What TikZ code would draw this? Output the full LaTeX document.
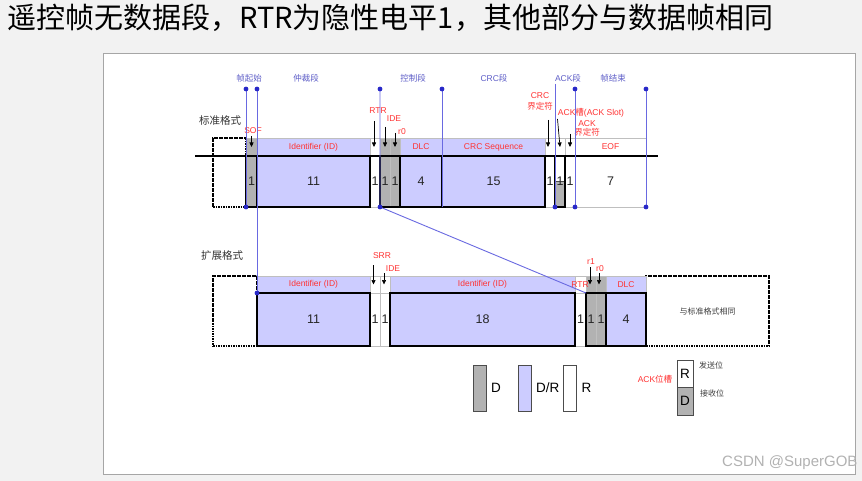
\documentclass[tikz,border=0pt]{standalone}
\usepackage{fontspec}
\setmainfont{Liberation Sans}
\newfontfamily\cjk{Noto Sans CJK SC}
\usepackage{tikz}
\usetikzlibrary{arrows.meta,positioning}
\definecolor{idlilac}{RGB}{204,204,255}
\definecolor{bitgray}{RGB}{178,178,178}
\definecolor{tagred}{RGB}{255,51,51}
\definecolor{markblue}{RGB}{105,105,225}
\definecolor{dotblue}{RGB}{40,40,200}
\definecolor{segblue}{RGB}{95,95,200}
\definecolor{pagegray}{RGB}{242,242,242}

\begin{document}
\begin{tikzpicture}[
  x=1pt, y=-1pt,
  font=\fontsize{8.5}{10}\selectfont,
  lab/.style={draw=gray!50, line width=0.6pt, fill=white, inner sep=0pt, outer sep=0pt, minimum height=18pt, text=tagred},
  val/.style={draw=gray!50, line width=0.6pt, fill=white, inner sep=0pt, outer sep=0pt, minimum height=51pt, font=\fontsize{12.5}{12.5}\selectfont, text=black!85},
  edge/.style={draw=black, line width=1.8pt},
  frame/.style={draw=black, line width=1.6pt, dash pattern=on 1.6pt off 0.9pt, inner sep=0pt, outer sep=0pt},
  seg/.style={draw=markblue, line width=0.9pt},
  pin/.style={-{Triangle[length=4.5pt,width=4pt]}, line width=0.7pt},
  tag/.style={text=tagred, inner sep=0.5pt, align=center, font=\fontsize{8.5}{10}\selectfont},
  part/.style={text=segblue, inner sep=0pt, font=\cjk\fontsize{8.5}{9}\selectfont},
  row/.style={text=black!80, inner sep=0pt, font=\cjk\fontsize{10.5}{11}\selectfont},
  key/.style={draw=black!70, line width=0.8pt, inner sep=0pt, outer sep=0pt, minimum width=13pt, minimum height=46pt, font=\fontsize{13.5}{14}\selectfont},
  keytext/.style={inner sep=0pt, font=\fontsize{13.5}{14}\selectfont},
  note/.style={inner sep=0pt, text=black!75, font=\cjk\fontsize{8}{9}\selectfont}
]
\fill[pagegray] (0,0) rectangle (862,481);
\useasboundingbox (0,0) rectangle (862,481);
\node[draw=gray!70, fill=white, line width=0.8pt, inner sep=0pt, minimum width=752pt, minimum height=421pt] (panel) at (479,263.5) {};
\node[anchor=west, inner sep=0pt, font=\cjk\fontsize{29}{30}\selectfont] (title) at (7,18) {遥控帧无数据段，RTR为隐性电平1，其他部分与数据帧相同};
\node[anchor=west, inner sep=0pt, text=black!30, font=\fontsize{15}{15}\selectfont] (mark) at (722,463) {CSDN @SuperGOB};

\node[row] (std) at (220,121) {标准格式};
\node[row] (ext) at (222,256) {扩展格式};

\node[part] (p-sof) at (249,78) {帧起始};
\node[part] (p-arb) at (306,78) {仲裁段};
\node[part] (p-ctl) at (413,78) {控制段};
\node[part] (p-crc) at (494,78) {{\normalfont CRC}段};
\node[part] (p-ack) at (568,78) {{\normalfont ACK}段};
\node[part] (p-eof) at (613,78) {帧结束};

\node[frame, minimum width=33pt, minimum height=69pt] (s-pre) at (229.5,172.5) {};
\node[val, fill=bitgray, minimum width=11pt] (s-sof) at (251.5,181.5) {1};
\node[val, fill=idlilac, minimum width=113pt, right=0pt of s-sof] (s-id) {11};
\node[val, minimum width=10pt, right=0pt of s-id] (s-rtr) {1};
\node[val, fill=bitgray, minimum width=10pt, right=0pt of s-rtr] (s-ide) {1};
\node[val, fill=bitgray, minimum width=10pt, right=0pt of s-ide] (s-r0) {1};
\node[val, fill=idlilac, minimum width=42pt, right=0pt of s-r0] (s-dlc) {4};
\node[val, fill=idlilac, minimum width=103pt, right=0pt of s-dlc] (s-crc) {15};
\node[val, minimum width=10pt, right=0pt of s-crc] (s-crcd) {1};
\node[val, minimum width=10pt, right=0pt of s-crcd, path picture={
  \fill[bitgray] (path picture bounding box.west) rectangle (path picture bounding box.south east);
  \draw[black!70, line width=0.6pt] (path picture bounding box.west) -- (path picture bounding box.east);}] (s-ack) {1};
\node[val, minimum width=10pt, right=0pt of s-ack] (s-ackd) {1};
\node[val, minimum width=71pt, right=0pt of s-ackd] (s-eof) {7};

\node[lab, fill=bitgray, minimum width=11pt, above=0pt of s-sof] (s-sof-l) {};
\node[lab, fill=idlilac, minimum width=113pt, above=0pt of s-id] (s-id-l) {Identifier (ID)};
\node[lab, minimum width=10pt, above=0pt of s-rtr] (s-rtr-l) {};
\node[lab, fill=bitgray, minimum width=10pt, above=0pt of s-ide] (s-ide-l) {};
\node[lab, fill=bitgray, minimum width=10pt, above=0pt of s-r0] (s-r0-l) {};
\node[lab, fill=idlilac, minimum width=42pt, above=0pt of s-dlc] (s-dlc-l) {DLC};
\node[lab, fill=idlilac, minimum width=103pt, above=0pt of s-crc] (s-crc-l) {CRC Sequence};
\node[lab, minimum width=10pt, above=0pt of s-crcd] (s-crcd-l) {};
\node[lab, minimum width=10pt, above=0pt of s-ack] (s-ack-l) {};
\node[lab, minimum width=10pt, above=0pt of s-ackd] (s-ackd-l) {};
\node[lab, minimum width=71pt, above=0pt of s-eof] (s-eof-l) {EOF};

\foreach \f in {s-sof,s-id,s-dlc,s-crc,s-ack}
  \draw[edge] (\f.north west) rectangle (\f.south east);
\draw[edge] (s-ide.north west) rectangle (s-r0.south east);
\coordinate (bus-l) at (195,156);
\coordinate (bus-r) at (658,156);
\draw[edge] (bus-l) -- (bus-r);

\node[frame, minimum width=44pt, minimum height=70pt] (x-pre) at (235,311) {};
\node[val, minimum height=53pt, fill=idlilac, minimum width=113pt] (x-id) at (313.5,319.5) {11};
\node[val, minimum height=53pt, minimum width=10pt, right=0pt of x-id] (x-srr) {1};
\node[val, minimum height=53pt, minimum width=10pt, right=0pt of x-srr] (x-ide) {1};
\node[val, minimum height=53pt, fill=idlilac, minimum width=185pt, right=0pt of x-ide] (x-id2) {18};
\node[val, minimum height=53pt, minimum width=11pt, right=0pt of x-id2] (x-rtr) {1};
\node[val, minimum height=53pt, fill=bitgray, minimum width=10pt, right=0pt of x-rtr] (x-r1) {1};
\node[val, minimum height=53pt, fill=bitgray, minimum width=10pt, right=0pt of x-r1] (x-r0) {1};
\node[val, minimum height=53pt, fill=idlilac, minimum width=40pt, right=0pt of x-r0] (x-dlc) {4};
\node[frame, minimum width=123pt, minimum height=70pt, font=\cjk\fontsize{8}{9}\selectfont, text=black!75] (x-same) at (707.5,311) {与标准格式相同};

\node[lab, minimum height=17pt, fill=idlilac, minimum width=113pt, above=0pt of x-id] (x-id-l) {Identifier (ID)};
\node[lab, minimum height=17pt, minimum width=10pt, above=0pt of x-srr] (x-srr-l) {};
\node[lab, minimum height=17pt, minimum width=10pt, above=0pt of x-ide] (x-ide-l) {};
\node[lab, minimum height=17pt, fill=idlilac, minimum width=185pt, above=0pt of x-id2] (x-id2-l) {Identifier (ID)};
\node[lab, minimum height=17pt, minimum width=11pt, above=0pt of x-rtr] (x-rtr-l) {};
\node[lab, minimum height=17pt, fill=bitgray, minimum width=10pt, above=0pt of x-r1] (x-r1-l) {};
\node[lab, minimum height=17pt, fill=bitgray, minimum width=10pt, above=0pt of x-r0] (x-r0-l) {};
\node[lab, minimum height=17pt, fill=idlilac, minimum width=40pt, above=0pt of x-dlc] (x-dlc-l) {DLC};

\foreach \f in {x-id,x-id2,x-dlc}
  \draw[edge] (\f.north west) rectangle (\f.south east);
\draw[edge] (x-r1.north west) rectangle (x-r0.south east);

\node[tag] (t-sof) at (253,131) {SOF};
\node[tag] (t-rtr) at (378,111) {RTR};
\node[tag] (t-ide) at (394,119) {IDE};
\node[tag] (t-r0) at (402,132) {r0};
\node[tag, font=\fontsize{8.5}{10.7}\selectfont] (t-crcd) at (540,101.5) {CRC\\{\cjk 界定符}};
\node[tag] (t-ack) at (591,113) {ACK{\cjk 槽}(ACK Slot)};
\node[tag, font=\fontsize{8.5}{9.2}\selectfont] (t-ackd) at (587,128) {ACK\\{\cjk 界定符}};
\node[tag] (x-srr-t) at (382,256) {SRR};
\node[tag] (x-ide-t) at (393,269) {IDE};
\node[tag] (x-r1-t) at (591,262) {r1};
\node[tag] (x-r0-t) at (600,269) {r0};
\node[tag] (x-rtr-t) at (580,285) {RTR};

\draw[pin] ([yshift=11pt]s-sof-l.center) -- (s-sof-l.center);
\draw[pin] ([xshift=-1pt,yshift=26pt]s-rtr-l.center) -- ([xshift=-1pt]s-rtr-l.center);
\draw[pin] ([yshift=20pt]s-ide-l.center) -- (s-ide-l.center);
\draw[pin] ([yshift=14pt]s-r0-l.center) -- (s-r0-l.center);
\draw[pin] ([xshift=-2pt,yshift=27pt]s-crcd-l.center) -- ([xshift=-2pt]s-crcd-l.center);
\draw[pin] ([xshift=-2.5pt,yshift=28pt]s-ack-l.center) -- (s-ack-l.center);
\draw[pin] ([yshift=13pt]s-ackd-l.center) -- (s-ackd-l.center);
\draw[pin] ([xshift=-1.5pt,yshift=19.5pt]x-srr-l.center) -- ([xshift=-1.5pt]x-srr-l.center);
\draw[pin] ([xshift=-1pt,yshift=11.5pt]x-ide-l.center) -- ([xshift=-1pt]x-ide-l.center);
\draw[pin] ([xshift=-1pt,yshift=17.5pt]x-r1-l.center) -- ([xshift=-1pt]x-r1-l.center);
\draw[pin] ([xshift=-2pt,yshift=11.5pt]x-r0-l.center) -- ([xshift=-2pt]x-r0-l.center);

\coordinate (m1) at (s-sof.west |- 0,89);
\coordinate (m2) at (s-id.west |- 0,89);
\coordinate (m3) at (s-rtr.east |- 0,89);
\coordinate (m4) at (s-dlc.east |- 0,89);
\coordinate (m5) at (s-crcd.east |- 0,84);
\coordinate (m6) at (s-ackd.east |- 0,89);
\coordinate (m7) at (s-eof.east |- 0,89);
\draw[seg] (m1) -- (s-sof.south west);
\draw[seg] (m2) -- (x-id.north west);
\draw[seg] (m3) -- (s-rtr.south east) -- (x-r1.north west);
\draw[seg] (m4) -- (s-dlc.south east);
\draw[seg] (m5) -- (s-crcd.south east);
\draw[seg] (m6) -- (s-ackd.south east);
\draw[seg] (m7) -- (s-eof.south east);
\foreach \p in {m1,m2,m3,m4,m6,m7,s-sof.south west,x-id.north west,s-rtr.south east,s-crcd.south east,s-ackd.south east,s-eof.south east}
  \fill[dotblue] (\p) circle (2.4pt);

\node[key, fill=bitgray] (k-d) at (479.5,388) {};
\node[keytext, right=5pt of k-d] (k-d-t) {D};
\node[key, fill=idlilac] (k-dr) at (524.5,388) {};
\node[keytext, right=5pt of k-dr] (k-dr-t) {D/R};
\node[key, fill=white] (k-r) at (570,388) {};
\node[keytext, right=5pt of k-r] (k-r-t) {R};
\node[key, fill=white, minimum width=16pt, minimum height=27pt] (k-ack-r) at (685,373.5) {R};
\node[key, fill=bitgray, minimum width=16pt, minimum height=28pt, below=0pt of k-ack-r] (k-ack-d) {D};
\node[tag] (k-ack-t) at (655,379) {ACK{\cjk 位槽}};
\node[note] (k-send) at (711,365) {发送位};
\node[note] (k-recv) at (712,393) {接收位};
\end{tikzpicture}
\end{document}
